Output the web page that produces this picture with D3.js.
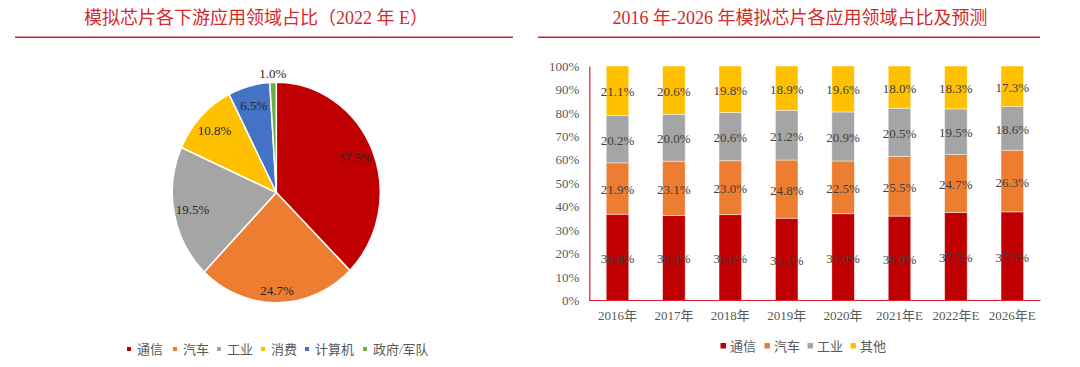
<!DOCTYPE html>
<html>
<head>
<meta charset="utf-8">
<script src="https://cdn.jsdelivr.net/npm/d3@7"></script>
<style>
  html, body { margin: 0; padding: 0; background: #fff; }
  svg { display: block; font-family: "Liberation Serif", "Noto Sans CJK SC", serif; }
</style>
</head>
<body>
<svg id="chart" width="1080" height="367"></svg>
<script>
// ---------- DATA ----------
const pieCategories = ["通信", "汽车", "工业", "消费", "计算机", "政府/军队"];
const pieValues = [37.5, 24.7, 19.5, 10.8, 6.5, 1.0];

const years = ["2016年", "2017年", "2018年", "2019年", "2020年", "2021年E", "2022年E", "2026年E"];
const barSeries = ["通信", "汽车", "工业", "其他"];
const telecom  = [36.8, 36.3, 36.6, 35.1, 37.0, 36.0, 37.5, 37.8];
const auto     = [21.9, 23.1, 23.0, 24.8, 22.5, 25.5, 24.7, 26.3];
const industry = [20.2, 20.0, 20.6, 21.2, 20.9, 20.5, 19.5, 18.6];
const others   = [21.1, 20.6, 19.8, 18.9, 19.6, 18.0, 18.3, 17.3];
const yTicks = [0, 10, 20, 30, 40, 50, 60, 70, 80, 90, 100];

const leftTitle = "模拟芯片各下游应用领域占比（2022 年 E）";
const rightTitle = "2016 年-2026 年模拟芯片各应用领域占比及预测";

// ---------- STYLE ----------
const pieColors = ["#C00000", "#ED7D31", "#A5A5A5", "#FFC000", "#4472C4", "#70AD47"];
const barColors = ["#C00000", "#ED7D31", "#A5A5A5", "#FFC000"];
const titleColor = "#D42A2A";
const lineColor = "#D61F26";
const textColor = "#404040";

const svg = d3.select("#chart");

// ---------- TITLES ----------
svg.append("text").attr("x", 256).attr("y", 24).attr("text-anchor", "middle")
  .attr("font-size", 18).attr("fill", titleColor).text(leftTitle);
svg.append("line").attr("x1", 15).attr("x2", 513).attr("y1", 37.3).attr("y2", 37.3)
  .attr("stroke", lineColor).attr("stroke-width", 1.5);

svg.append("text").attr("x", 800).attr("y", 24).attr("text-anchor", "middle")
  .attr("font-size", 18).attr("fill", titleColor).text(rightTitle);
svg.append("line").attr("x1", 538).attr("x2", 1040).attr("y1", 37.3).attr("y2", 37.3)
  .attr("stroke", lineColor).attr("stroke-width", 1.5);

// ---------- PIE ----------
const cx = 276.3, cy = 192.5, r = 104, sy = 1.06;
const pie = d3.pie().sort(null).value(d => d)(pieValues);
const arc = d3.arc().innerRadius(0).outerRadius(r);
const pg = svg.append("g").attr("transform", `translate(${cx},${cy}) scale(1,${sy})`);
pg.selectAll("path").data(pie).join("path")
  .attr("d", arc)
  .attr("fill", (d, i) => pieColors[i])
  .attr("stroke", "#fff").attr("stroke-width", 1.5)
  .attr("vector-effect", "non-scaling-stroke");

const labelK = i => (i === 1 ? 0.885 : i === 5 ? 1.08 : 0.82);
svg.append("g").selectAll("text").data(pie).join("text")
  .attr("x", (d, i) => cx + labelK(i) * r * Math.sin((d.startAngle + d.endAngle) / 2))
  .attr("y", (d, i) => cy - labelK(i) * r * sy * Math.cos((d.startAngle + d.endAngle) / 2))
  .attr("text-anchor", "middle").attr("dominant-baseline", "central")
  .attr("font-size", 13).attr("fill", "#262626")
  .text(d => d.data.toFixed(1) + "%");

// pie legend
const pieLegendX = [129, 175, 219, 263, 307, 365];
const pl = svg.append("g");
pieCategories.forEach((c, i) => {
  pl.append("rect").attr("x", pieLegendX[i] - 2).attr("y", 347).attr("width", 4).attr("height", 4)
    .attr("fill", pieColors[i]);
  pl.append("text").attr("x", pieLegendX[i] + 8).attr("y", 349).attr("dominant-baseline", "central")
    .attr("font-size", 13).attr("fill", "#595959").text(c);
});

// ---------- STACKED BARS ----------
const plotL = 589.3, plotR = 1040.5, plotT = 66, plotB = 300.5;
const x = d3.scaleBand().domain(years).range([plotL, plotR]).paddingInner(0.6).paddingOuter(0.3);
const y = d3.scaleLinear().domain([0, 100]).range([plotB, plotT]);

const rows = years.map((yr, i) => ({ year: yr, "通信": telecom[i], "汽车": auto[i], "工业": industry[i], "其他": others[i] }));
const stacked = d3.stack().keys(barSeries)(rows);

const bg = svg.append("g");
stacked.forEach((layer, si) => {
  bg.append("g").selectAll("rect").data(layer).join("rect")
    .attr("x", d => x(d.data.year))
    .attr("width", x.bandwidth())
    .attr("y", d => y(d[1]))
    .attr("height", d => y(d[0]) - y(d[1]))
    .attr("fill", barColors[si])
    .attr("stroke", "rgba(255,255,255,0.6)").attr("stroke-width", 0.75);
});
stacked.forEach((layer, si) => {
  bg.append("g").selectAll("text").data(layer).join("text")
    .attr("x", d => x(d.data.year) + x.bandwidth() / 2)
    .attr("y", d => y((d[0] + d[1]) / 2) + 1)
    .attr("text-anchor", "middle").attr("dominant-baseline", "central")
    .attr("font-size", 13).attr("fill", textColor)
    .text(d => (d[1] - d[0]).toFixed(1) + "%");
});

// y axis
const yAxis = d3.axisLeft(y).tickValues(yTicks).tickFormat(d => d + "%").tickSize(0).tickPadding(10);
const ya = svg.append("g").attr("transform", `translate(${plotL},0)`).call(yAxis);
ya.select(".domain").attr("stroke", lineColor).attr("stroke-width", 1.2);
ya.selectAll("text").attr("font-size", 13).attr("fill", "#595959")
  .attr("font-family", "'Liberation Serif', serif");

// x axis
const xAxis = d3.axisBottom(x).tickSize(0).tickPadding(10);
const xa = svg.append("g").attr("transform", `translate(0,${plotB})`).call(xAxis);
xa.select(".domain").attr("stroke", lineColor).attr("stroke-width", 1.2)
  .attr("d", `M${plotL},0H${plotR}`);
xa.selectAll("text").attr("font-size", 13).attr("fill", "#595959")
  .attr("font-family", "'Liberation Serif', 'Noto Sans CJK SC', serif");

// bar legend
const barLegendX = [723, 767, 810, 853];
const bl = svg.append("g");
barSeries.forEach((c, i) => {
  bl.append("rect").attr("x", barLegendX[i] - 2.5).attr("y", 343).attr("width", 5.5).attr("height", 5.5)
    .attr("fill", barColors[i]);
  bl.append("text").attr("x", barLegendX[i] + 7).attr("y", 346).attr("dominant-baseline", "central")
    .attr("font-size", 13).attr("fill", "#595959").text(c);
});
</script>
</body>
</html>
